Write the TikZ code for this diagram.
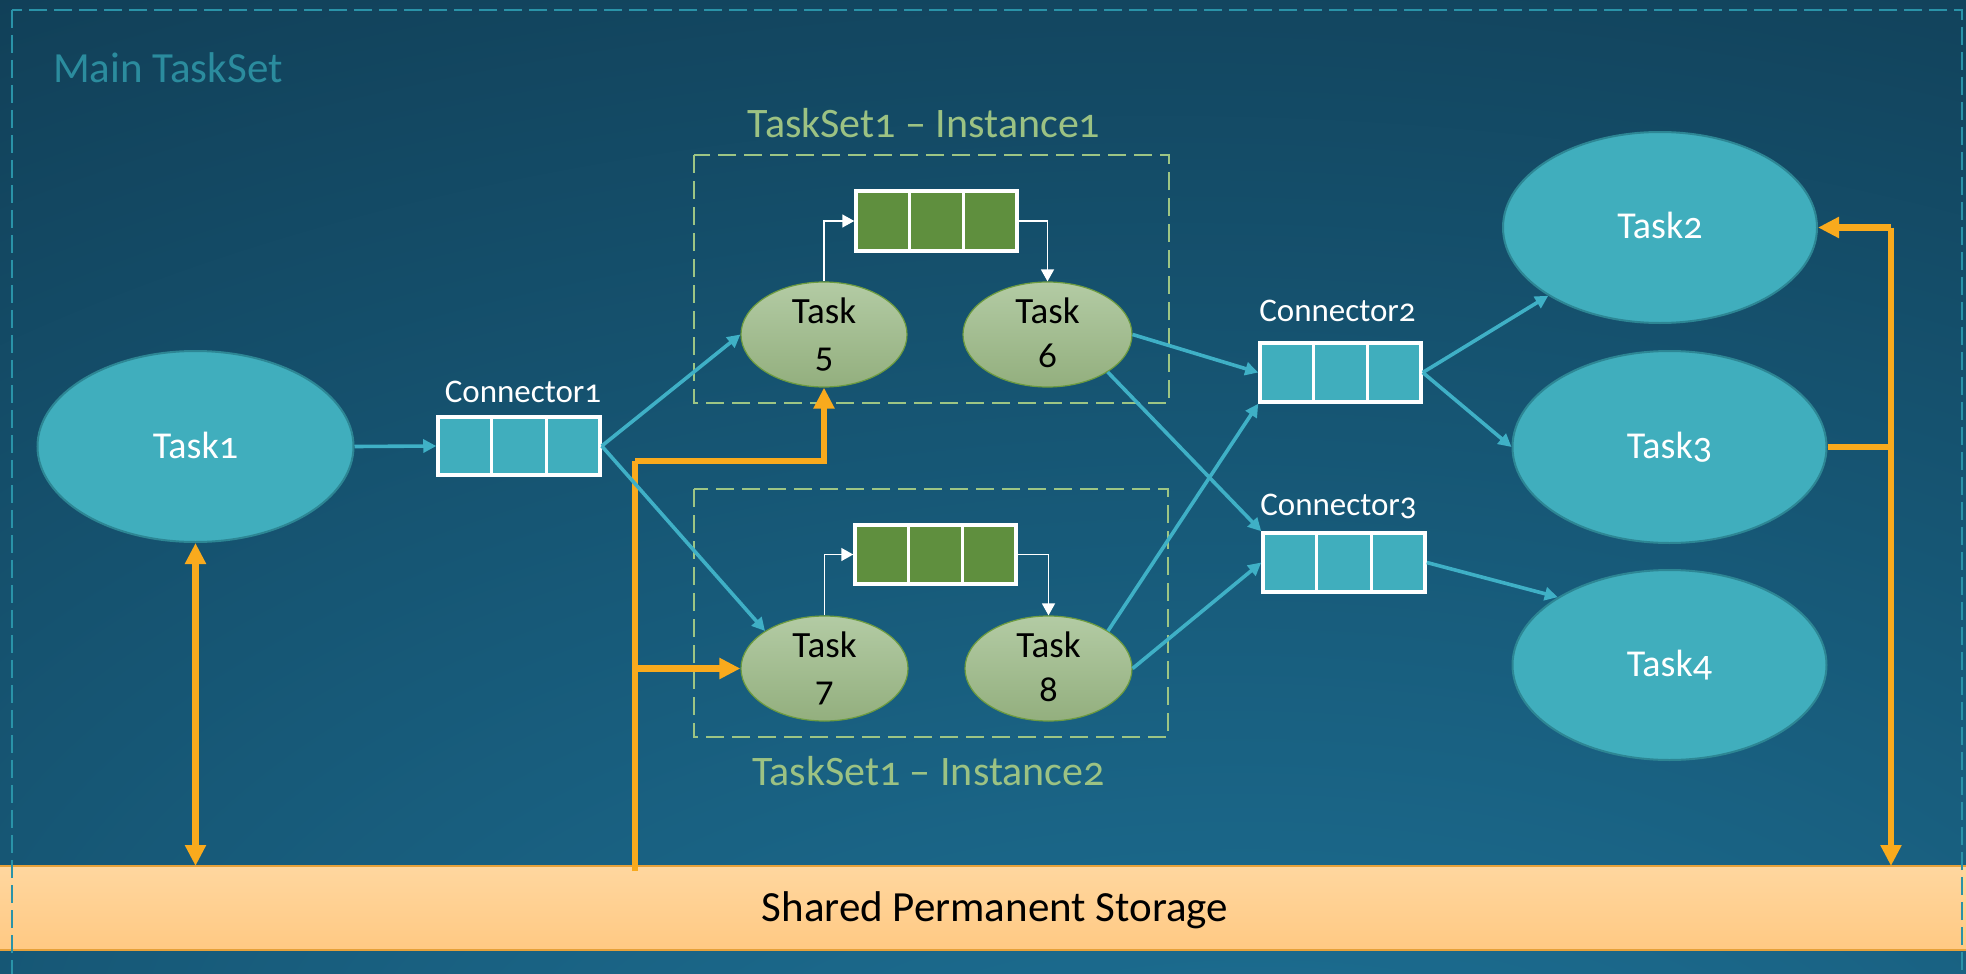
\documentclass[tikz,border=0pt]{standalone}
\usepackage{fontspec}
\setmainfont{Carlito}[Numbers=OldStyle]
\usetikzlibrary{arrows.meta,shapes.geometric,calc}
\definecolor{bgdark}{HTML}{103B52}
\definecolor{bgmid}{HTML}{175A79}
\definecolor{bglight}{HTML}{1F769C}
\definecolor{tealfill}{HTML}{40AEBD}
\definecolor{tealedge}{HTML}{2D8694}
\definecolor{tealln}{HTML}{3FB0C6}
\definecolor{maindash}{HTML}{2A93A8}
\definecolor{mainlbl}{HTML}{2B8C9E}
\definecolor{greenlbl}{HTML}{9CC283}
\definecolor{greendash}{HTML}{9DC584}
\definecolor{gtop}{HTML}{B3CBA4}
\definecolor{gbot}{HTML}{93AF7E}
\definecolor{greenedge}{HTML}{6C9B40}
\definecolor{queuegreen}{HTML}{5F8F3E}
\definecolor{orangeln}{HTML}{F9AA1D}
\definecolor{stortop}{HTML}{FFD79F}
\definecolor{storbot}{HTML}{FFC983}
\definecolor{storedge}{HTML}{E6A13A}
\pgfdeclareradialshading{bgglow}{\pgfpoint{8bp}{-42bp}}{color(0bp)=(bglight); color(28bp)=(bgmid); color(58bp)=(bgdark); color(100bp)=(bgdark)}
\begin{document}
\begin{tikzpicture}[x=1pt,y=-1pt,
  tealtask/.style={ellipse, draw=tealedge, line width=2pt, fill=tealfill, inner sep=0pt, minimum width=314pt, minimum height=191pt},
  greentask/.style={ellipse, draw=greenedge, line width=1.2pt, top color=gtop, bottom color=gbot, inner sep=0pt, minimum width=167pt, minimum height=105pt},
  tealqueue/.style={rectangle, draw=white, line width=3.5pt, fill=tealfill, inner sep=0pt, minimum width=161pt, minimum height=59pt},
  greenqueue/.style={rectangle, draw=white, line width=3.5pt, fill=queuegreen, inner sep=0pt, minimum width=161pt, minimum height=60pt},
  flow/.style={draw=tealln, line width=3.6pt, -{Triangle[length=13pt,width=13pt]}},
  inner/.style={draw=white, line width=1.5pt, -{Triangle[length=12pt,width=13pt]}},
  store/.style={draw=orangeln, line width=6.5pt},
  storearrow/.style={draw=orangeln, line width=6.5pt, -{Triangle[length=21pt,width=20pt]}},
  ttext/.style={text=white, inner sep=0pt, anchor=base, font=\fontsize{38}{46}\selectfont},
  gtext/.style={text=black, inner sep=0pt, anchor=base, font=\fontsize{37}{44}\selectfont},
  conlbl/.style={text=white, inner sep=0pt, anchor=base, font=\fontsize{33}{40}\selectfont},
  setlbl/.style={text=greenlbl, inner sep=0pt, anchor=base, font=\fontsize{42}{50}\selectfont},
  setbox/.style={draw=greendash, line width=2.6pt, dash pattern=on 18pt off 8pt}
]
\useasboundingbox (0,0) rectangle (1966,974);
% background
\shade[shading=bgglow] (0,0) rectangle (1966,974);

% storage band
\shade[top color=stortop, bottom color=storbot] (0,866) rectangle (1966,950);
\draw[storedge, line width=2pt] (0,866) -- (1966,866);
\draw[storedge, line width=2pt] (0,950) -- (1966,950);
\node[inner sep=0pt, anchor=base, text=black, font=\fontsize{43}{50}\selectfont] (storlbl) at (995,921.5) {Shared Permanent Storage};
\coordinate (s1) at (195.5,866);
\coordinate (s2) at (635,871);
\coordinate (s3) at (1891,866);
\coordinate (j1) at (635,461);

% main taskset border
\begin{scope}
\clip (0,0) rectangle (1966,974);
\draw[draw=maindash, line width=2pt, dash pattern=on 18pt off 7pt] (12,10) rectangle (1962,990);
\end{scope}
\node[inner sep=0pt, anchor=base west, text=mainlbl, font=\fontsize{43}{50}\selectfont] (mainlbl) at (53,83) {Main TaskSet};

% taskset instance boxes
\draw[setbox] (694,155) rectangle (1169,403);
\draw[setbox] (694,489) rectangle (1168,737);
\node[setlbl] (set1lbl) at (924,137) {TaskSet1 – Instance1};
\node[setlbl] (set2lbl) at (928.5,785) {TaskSet1 – Instance2};

% teal tasks
\node[tealtask, minimum width=316pt] (t1) at (195.5,446.5) {};
\node[tealtask] (t2) at (1660,227.5) {};
\node[tealtask, minimum height=192pt] (t3) at (1669.5,447) {};
\node[tealtask, minimum height=190pt] (t4) at (1669.5,665) {};
\node[ttext] (t1l) at ($(t1.center)+(0,12)$) {Task1};
\node[ttext] (t2l) at ($(t2.center)+(0,11)$) {Task2};
\node[ttext] (t3l) at ($(t3.center)+(0,11)$) {Task3};
\node[ttext] (t4l) at ($(t4.center)+(0,11)$) {Task4};

% green tasks
\node[greentask, minimum width=166pt] (t5) at (824,334.5) {};
\node[greentask, minimum width=169pt] (t6) at (1047.5,334.5) {};
\node[greentask] (t7) at (824.5,668.5) {};
\node[greentask] (t8) at (1048.5,668.5) {};
\foreach \t/\n in {t5/5,t6/6,t7/7,t8/8}{
  \node[gtext] (\t a) at ($(\t.center)+(0,-11)$) {Task};
  \node[gtext] (\t b) at ($(\t.center)+(0,33)$) {\n};
}

% queues
\node[tealqueue, minimum height=58pt, minimum width=162pt] (c1) at (519,446) {};
\node[tealqueue] (c2) at (1340.5,372.5) {};
\node[tealqueue, minimum width=162pt] (c3) at (1344,562.5) {};
\node[greenqueue] (q1) at (936.5,221) {};
\node[greenqueue, minimum height=59pt] (q2) at (935.5,554.5) {};
\foreach \q in {c1,c2,c3,q1,q2}{
  \draw[white, line width=3pt] ($(\q.north west)!1/3!(\q.north east)$) -- ($(\q.south west)!1/3!(\q.south east)$);
  \draw[white, line width=3pt] ($(\q.north west)!2/3!(\q.north east)$) -- ($(\q.south west)!2/3!(\q.south east)$);
}
\node[conlbl] (c1l) at (523,402) {Connector1};
\node[conlbl] (c2l) at (1337.5,321) {Connector2};
\node[conlbl] (c3l) at (1338.5,515) {Connector3};

% inner white arrows
\draw[inner] (t5.north) |- (q1.west);
\draw[inner] (q1.east) -| (t6.north);
\draw[inner] (t7.north) |- (q2.west);
\draw[inner] (q2.east) -| (t8.north);

% orange storage links
\draw[store] (s2) -- (j1);
\draw[storearrow] (j1) -| (t5.south);
\draw[storearrow] (s2 |- t7.west) -- (t7.west);
\draw[draw=orangeln, line width=6.5pt, {Triangle[length=21pt,width=20pt]}-{Triangle[length=21pt,width=20pt]}] (t1.south) -- (s1);
\coordinate (j2) at (1891,227.5);
\draw[store] (t3.east) -- (s3 |- t3.east);
\draw[storearrow] (j2) -- (t2.east);
\draw[storearrow] (j2) -- (s3);

% teal flows
\draw[flow] (t1.east) -- (c1.west);
\draw[flow] (c1.east) -- (t5.west);
\draw[flow] (c1.east) -- (t7.north west);
\draw[flow] (t6.east) -- (c2.west);
\draw[flow] (t6.south east) -- (c3.north west);
\draw[flow] (t8.north east) -- (c2.south west);
\draw[flow] (t8.east) -- (c3.west);
\draw[flow] (c2.east) -- (t2.south west);
\draw[flow] (c2.east) -- (t3.west);
\draw[flow] (c3.east) -- (t4.north west);
\end{tikzpicture}
\end{document}
